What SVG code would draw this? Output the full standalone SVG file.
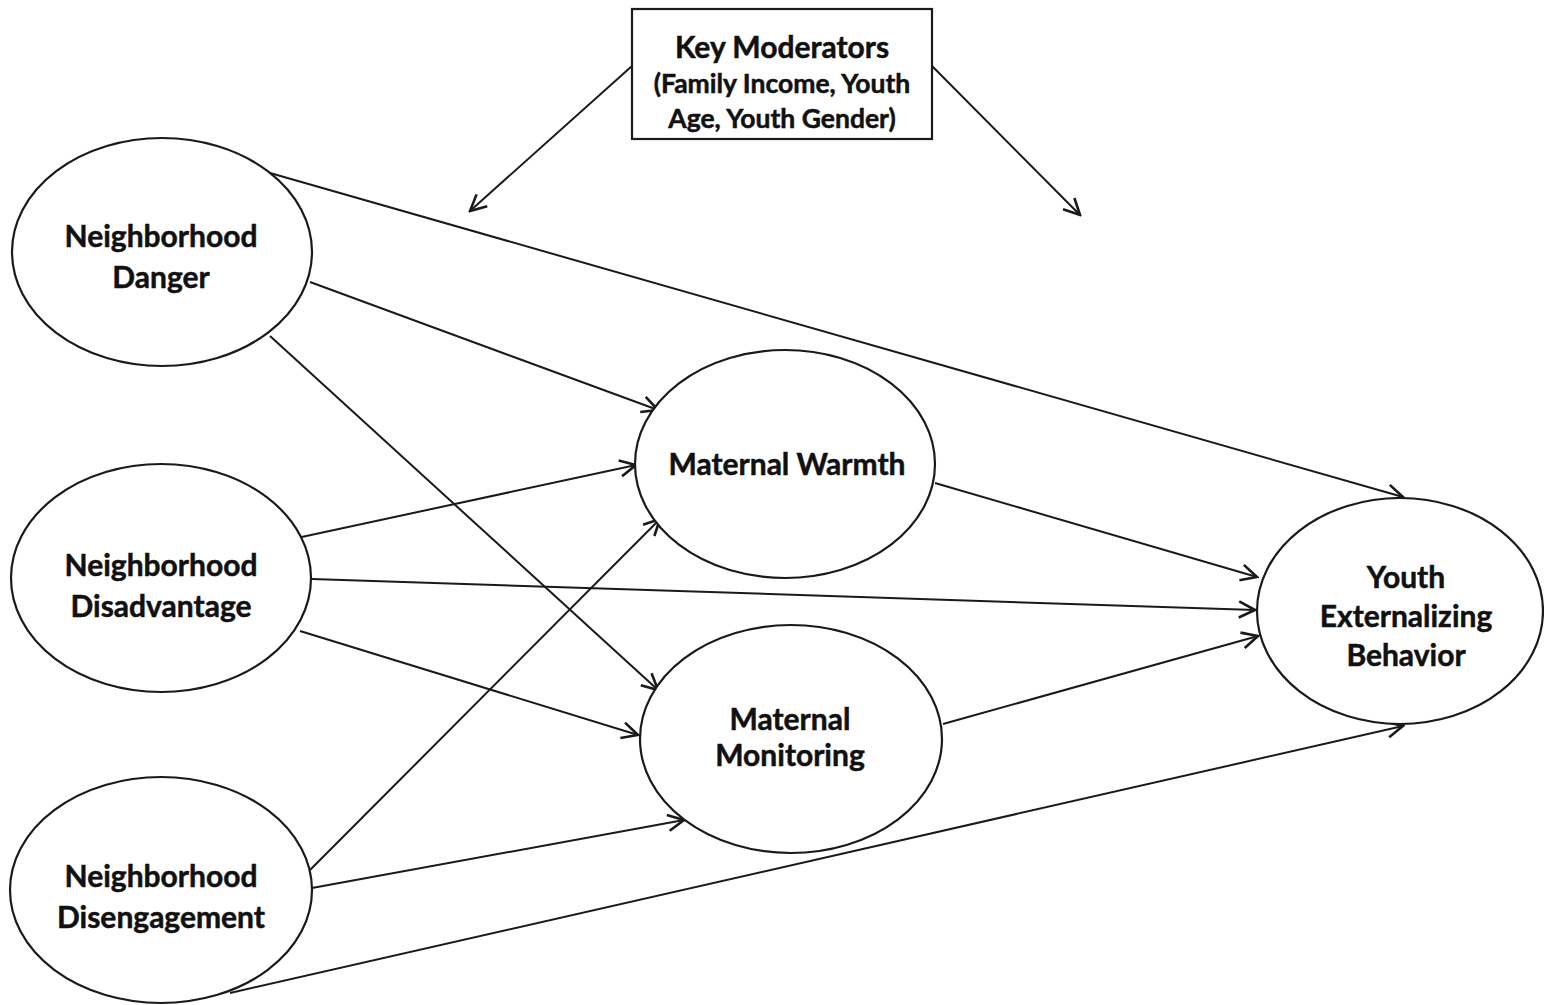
<svg xmlns="http://www.w3.org/2000/svg" width="1544" height="1005" viewBox="0 0 1544 1005">
  <style>
    .node { fill: #ffffff; stroke: #1a1a1a; stroke-width: 2.2; }
    .label { font-family: Lato, "Open Sans", "Liberation Sans", sans-serif; font-weight: bold; font-size: 30px; fill: #111111; text-anchor: middle; stroke: #111111; stroke-width: 0.5; }
    .small { font-size: 26.5px; }
    .edge { stroke: #1a1a1a; stroke-width: 2; fill: none; marker-end: url(#arrow); }
  </style>
  <defs>
    <marker id="arrow" viewBox="0 0 20 20" refX="18" refY="10" markerWidth="20" markerHeight="20" markerUnits="userSpaceOnUse" orient="auto">
      <path d="M2,2 L18,10 L2,18" fill="none" stroke="#1a1a1a" stroke-width="2.6" stroke-linejoin="miter"/>
    </marker>
  </defs>
  <rect width="1544" height="1005" fill="#ffffff"/>

  <g id="connectors">
    <line class="edge" x1="632" y1="66" x2="470" y2="211"/>
    <line class="edge" x1="932" y1="66" x2="1080" y2="215"/>
    <line class="edge" x1="270" y1="173" x2="1403" y2="497"/>
    <line class="edge" x1="310" y1="282" x2="658" y2="410"/>
    <line class="edge" x1="270" y1="336" x2="658" y2="690"/>
    <line class="edge" x1="297" y1="538" x2="636" y2="465"/>
    <line class="edge" x1="312" y1="579" x2="1255" y2="610"/>
    <line class="edge" x1="300" y1="631" x2="638" y2="735"/>
    <line class="edge" x1="310" y1="870" x2="660" y2="519"/>
    <line class="edge" x1="312" y1="888" x2="684" y2="820"/>
    <line class="edge" x1="230" y1="993" x2="1403" y2="726"/>
    <line class="edge" x1="935" y1="483" x2="1257" y2="577"/>
    <line class="edge" x1="943" y1="724" x2="1258" y2="636"/>
  </g>

  <g id="key-moderators">
    <rect class="node" x="632" y="9" width="300" height="130"/>
    <text class="label" x="782" y="58">Key Moderators</text>
    <text class="label small" x="782" y="93">(Family Income, Youth</text>
    <text class="label small" x="782" y="128">Age, Youth Gender)</text>
  </g>

  <g id="neighborhood-danger">
    <ellipse class="node" cx="162" cy="252" rx="150" ry="114"/>
    <text class="label" x="161" y="247">Neighborhood</text>
    <text class="label" x="161" y="288">Danger</text>
  </g>

  <g id="neighborhood-disadvantage">
    <ellipse class="node" cx="161" cy="578" rx="150" ry="114"/>
    <text class="label" x="161" y="576">Neighborhood</text>
    <text class="label" x="161" y="617">Disadvantage</text>
  </g>

  <g id="neighborhood-disengagement">
    <ellipse class="node" cx="161" cy="890" rx="151" ry="113"/>
    <text class="label" x="161" y="887">Neighborhood</text>
    <text class="label" x="161" y="928">Disengagement</text>
  </g>

  <g id="maternal-warmth">
    <ellipse class="node" cx="785" cy="464" rx="150" ry="114"/>
    <text class="label" x="787" y="475">Maternal Warmth</text>
  </g>

  <g id="maternal-monitoring">
    <ellipse class="node" cx="791" cy="739" rx="151" ry="114"/>
    <text class="label" x="790" y="730">Maternal</text>
    <text class="label" x="790" y="766">Monitoring</text>
  </g>

  <g id="youth-externalizing-behavior">
    <ellipse class="node" cx="1400" cy="611" rx="143" ry="113"/>
    <text class="label" x="1406" y="588">Youth</text>
    <text class="label" x="1406" y="627">Externalizing</text>
    <text class="label" x="1406" y="666">Behavior</text>
  </g>
</svg>
